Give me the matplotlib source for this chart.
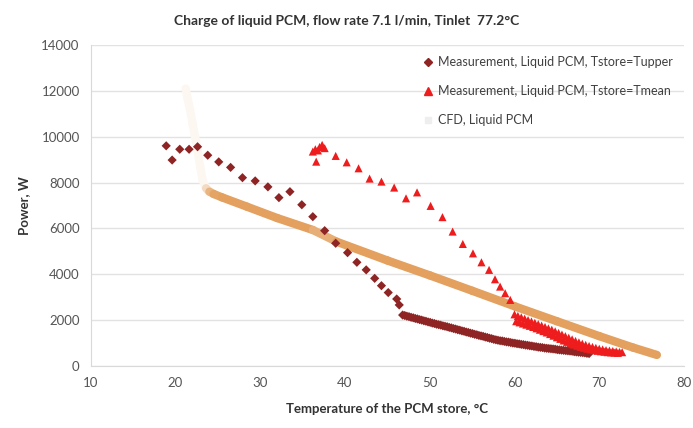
import numpy as np
import matplotlib
matplotlib.use("Agg")
import matplotlib.pyplot as plt
from matplotlib.collections import LineCollection
from matplotlib.lines import Line2D

plt.rcParams['font.family'] = ['Lato', 'DejaVu Sans']

title = "Charge of liquid PCM, flow rate 7.1 l/min, Tinlet  77.2°C"
xlabel = "Temperature of the PCM store, °C"
ylabel = "Power, W"
labels = ["Measurement, Liquid PCM, Tstore=Tupper",
          "Measurement, Liquid PCM, Tstore=Tmean",
          "CFD, Liquid PCM"]

# Series 1: Tstore = Tupper (diamonds)
upper_x = [18.9, 19.6, 20.5, 21.6, 22.6, 23.8, 25.1, 26.5, 27.9, 29.4, 30.9, 32.2,
           33.5, 34.9, 36.2, 37.6, 38.9, 40.3, 41.4, 42.5, 43.5, 44.3, 45.1, 46.1, 46.4,
           46.80, 47.05, 47.30, 47.55, 47.80, 48.05, 48.30, 48.55, 48.80, 49.05, 49.30,
           49.55, 49.80, 50.05, 50.30, 50.55, 50.80, 51.05, 51.30, 51.55, 51.80, 52.05,
           52.30, 52.55, 52.80, 53.05, 53.30, 53.55, 53.80, 54.05, 54.30, 54.55, 54.80,
           55.05, 55.30, 55.55, 55.80, 56.05, 56.30, 56.55, 56.80, 57.05, 57.30, 57.55,
           57.80, 58.05, 58.30, 58.55, 58.80, 59.05, 59.30, 59.55, 59.80, 60.05, 60.30,
           60.55, 60.80, 61.05, 61.30, 61.55, 61.80, 62.05, 62.30, 62.55, 62.80, 63.05,
           63.30, 63.55, 63.80, 64.05, 64.30, 64.55, 64.80, 65.05, 65.30, 65.55, 65.80,
           66.05, 66.30, 66.55, 66.80, 67.05, 67.30, 67.55, 67.80, 68.05, 68.30, 68.55,
           68.80]
upper_y = [9600, 8980, 9450, 9450, 9560, 9190, 8900, 8660, 8210, 8070, 7810, 7340,
           7600, 7030, 6510, 5900, 5350, 4940, 4520, 4190, 3820, 3500, 3200, 2920, 2660,
           2220, 2200, 2170, 2150, 2120, 2100, 2070, 2050, 2020, 2000, 1970,
           1950, 1920, 1900, 1870, 1850, 1820, 1800, 1780, 1750, 1730, 1710,
           1680, 1660, 1630, 1610, 1580, 1560, 1530, 1510, 1480, 1460, 1430,
           1410, 1380, 1360, 1330, 1310, 1290, 1260, 1240, 1210, 1190, 1160,
           1140, 1120, 1100, 1090, 1070, 1050, 1040, 1020, 1000, 990, 970,
           960, 940, 930, 910, 900, 880, 870, 850, 840, 820, 810,
           800, 780, 770, 760, 750, 740, 730, 710, 700, 690, 680,
           670, 660, 650, 640, 620, 610, 600, 590, 580, 570, 550,
           540]

# Series 2: Tstore = Tmean (triangles)
mean_x = [36.2, 36.5, 36.8, 37.0, 37.3, 37.6, 36.6, 38.9, 40.2, 41.6, 42.9, 44.3,
          45.8, 47.2, 48.5, 50.1, 51.5, 52.7, 53.9, 55.1, 56.1, 57.0, 57.7, 58.3,
          58.9, 59.5,
          60.0, 60.4, 60.8, 61.2, 61.6, 62.0, 62.4, 62.8, 63.2, 63.6, 64.0, 64.4,
          64.8, 65.2, 65.6, 66.0, 66.4, 66.8, 67.2, 67.6, 68.0, 68.4, 68.8, 69.2,
          69.6, 70.0, 70.4, 70.8, 71.2, 71.6, 72.0, 72.4, 72.7,
          60.2, 60.6, 61.0, 61.4, 61.8, 62.2, 62.6, 63.0, 63.4, 63.8, 64.2, 64.6,
          65.0, 65.4, 65.8, 66.2, 66.6, 67.0, 67.4, 67.8, 68.2, 68.6, 69.0, 69.4,
          69.8, 70.2, 70.6, 71.0, 71.4, 71.8, 72.2]
mean_y = [9350, 9450, 9400, 9550, 9640, 9500, 8910, 9160, 8880, 8620, 8170, 8040,
          7780, 7310, 7570, 6980, 6490, 5860, 5320, 4910, 4520, 4190, 3780, 3460,
          3170, 2880,
          2250, 2180, 2120, 2060, 2000, 1940, 1880, 1820, 1760, 1700, 1640, 1580,
          1510, 1440, 1370, 1300, 1230, 1160, 1090, 1030, 970, 920, 870, 830,
          790, 750, 720, 690, 670, 650, 630, 610, 600,
          1950, 1900, 1850, 1800, 1750, 1700, 1640, 1580, 1520, 1460, 1390, 1320,
          1250, 1180, 1110, 1050, 990, 930, 880, 830, 790, 750, 720, 690,
          660, 640, 620, 600, 590, 580, 570]

# Series 3: CFD
cfd_x = [21.2, 21.4, 21.7, 22.0, 22.3, 22.6, 22.9, 23.2, 23.6, 24.0, 24.5, 25.5,
         28.4, 32.0, 36.2, 39.0, 45.0, 50.0, 55.0, 60.1, 65.0, 70.0, 74.0, 76.8]
cfd_y = [12100, 11700, 11200, 10600, 10000, 9400, 8700, 8100, 7750, 7600, 7500, 7350,
         6950, 6450, 5930, 5420, 4600, 3950, 3280, 2590, 1950, 1300, 800, 480]

xticks = [10, 20, 30, 40, 50, 60, 70, 80]
yticks = [0, 2000, 4000, 6000, 8000, 10000, 12000, 14000]

c_upper = '#8e2424'
c_mean = '#ee1c1c'
c_cfd = '#e3a05e'

fig = plt.figure(figsize=(6.93, 4.28), dpi=100)
ax = fig.add_axes([0.131, 0.145, 0.856, 0.75])
ax.set_xlim(10, 80)
ax.set_ylim(0, 14000)
ax.set_xticks(xticks)
ax.set_yticks(yticks)
ax.grid(axis='y', color='#e2e2e2', lw=1)
ax.set_axisbelow(True)
for s in ['top', 'right']:
    ax.spines[s].set_visible(False)
ax.spines['left'].set_color('#d9d9d9')
ax.spines['bottom'].set_color('#d9d9d9')
ax.tick_params(length=0, labelsize=9.5, colors='#555555', pad=8)

# CFD thick line, steep part paler (sparse simulated points look faint)
pts = np.column_stack([cfd_x, cfd_y])
pix = ax.transData.transform(pts)
segs = np.stack([pts[:-1], pts[1:]], axis=1)
d = pix[1:] - pix[:-1]
steep = np.abs(d[:, 1]) / (np.hypot(d[:, 0], d[:, 1]) + 1e-9)
base = np.array(matplotlib.colors.to_rgb(c_cfd))
cols = []
for s in steep:
    f = min(1.0, max(0.0, (s - 0.35) / 0.55))
    rgb = base * (1 - 0.92 * f) + np.ones(3) * 0.92 * f
    cols.append(rgb)
lc = LineCollection(segs, colors=cols, linewidths=6, capstyle='round', joinstyle='round', zorder=2)
ax.add_collection(lc)

ax.scatter(upper_x, upper_y, marker='D', s=22, color=c_upper, edgecolors='none', zorder=3)
ax.scatter(mean_x, mean_y, marker='^', s=34, color=c_mean, edgecolors='none', zorder=3)

handles = [Line2D([], [], ls='none', marker='D', ms=4, color=c_upper),
           Line2D([], [], ls='none', marker='^', ms=6, color=c_mean),
           Line2D([], [], ls='none', marker='s', ms=5, color='#eeeeee')]
ax.legend(handles, labels, loc='upper right', bbox_to_anchor=(1.0, 1.0), frameon=False,
          fontsize=9, handlelength=0.8, handletextpad=0.4, labelspacing=1.35,
          labelcolor='#404040')

fig.text(0.5, 0.952, title, ha='center', va='center', fontsize=10, fontweight='bold', color='#333333')
ax.set_xlabel(xlabel, fontsize=9.5, fontweight='bold', color='#333333', labelpad=10)
ax.set_ylabel(ylabel, fontsize=9.5, fontweight='bold', color='#333333', labelpad=8)

fig.savefig('out.png', dpi=100)
